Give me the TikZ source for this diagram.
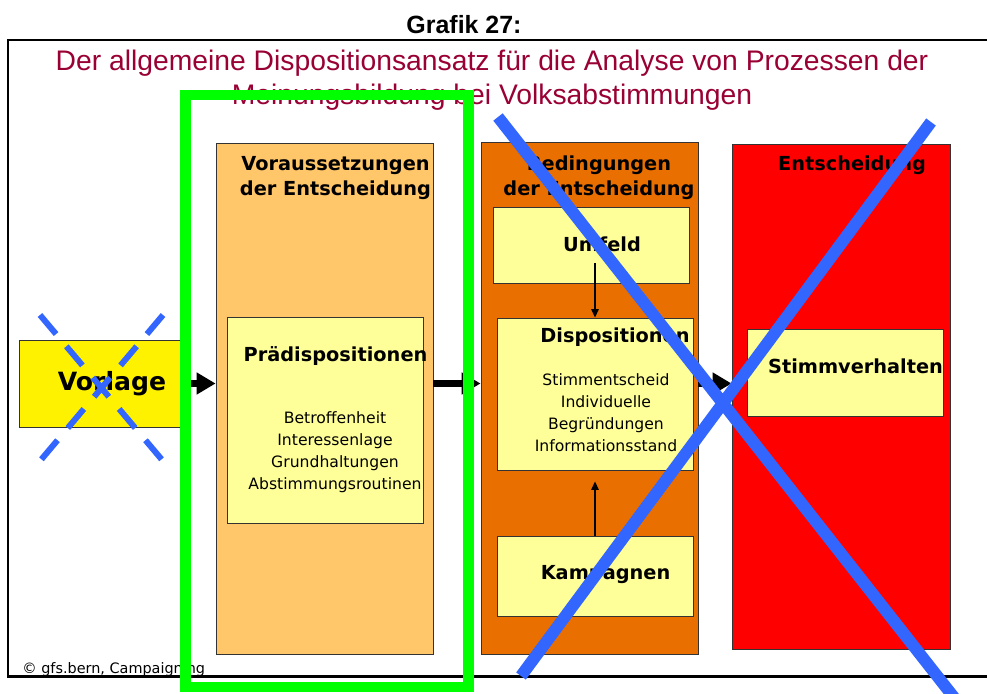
\documentclass[tikz,border=0pt]{standalone}
\usepackage{fontspec}
\setmainfont{DejaVu Sans}
\newfontfamily\titlefont{Liberation Sans}
\usetikzlibrary{arrows.meta,shadows,calc}
\definecolor{titlered}{RGB}{153,0,51}
\definecolor{paleorange}{RGB}{255,198,106}
\definecolor{darkorange}{RGB}{233,111,0}
\definecolor{paleyellow}{RGB}{255,255,153}
\definecolor{markblue}{RGB}{51,102,255}
\definecolor{markgreen}{RGB}{0,255,0}
\begin{document}
\begin{tikzpicture}[x=0.02cm, y=-0.02cm,
    box/.style={draw=black!80, line width=0.5pt, rectangle, inner sep=0pt, drop shadow={shadow xshift=0.03cm, shadow yshift=-0.03cm, fill=black!50, opacity=1}},
    head/.style={font=\fontsize{11}{14.2}\selectfont\bfseries, align=center, inner sep=0pt},
    items/.style={font=\fontsize{8.9}{12.5}\selectfont, align=center, inner sep=0pt},
    bigarrow/.style={-{Triangle[length=0.38cm, width=0.42cm]}, line width=4pt},
    smallarrow/.style={-{Triangle[length=0.17cm, width=0.15cm]}, line width=0.7pt},
    cross/.style={markblue, line width=6.8pt}]
  \useasboundingbox (0,0) rectangle (987,693);
  \node[anchor=base, inner sep=0pt, font=\titlefont\fontsize{14.2}{14.2}\selectfont\bfseries] (grafik) at (464,33) {Grafik 27:};
  \draw[line width=1.7pt] (987,40) -- (8,40) -- (8,676) -- (987,676);
  \node[anchor=base, inner sep=0pt, align=center, text=titlered, font=\titlefont\fontsize{16.1}{19.3}\selectfont] (title) at (492,104) {Der allgemeine Dispositionsansatz für die Analyse von Prozessen der\\Meinungsbildung bei Volksabstimmungen};

  \node[box, fill=yellow, minimum width=3.34cm, minimum height=1.74cm] (vorlage) at (102.5,383.5) {};
  \node[box, fill=paleorange, minimum width=4.34cm, minimum height=10.22cm] (vor) at (324.5,398.5) {};
  \node[box, fill=paleyellow, minimum width=3.92cm, minimum height=4.12cm] (praed) at (325,420) {};
  \node[box, fill=darkorange, minimum width=4.34cm, minimum height=10.24cm] (bed) at (589.5,398) {};
  \node[box, fill=paleyellow, minimum width=3.92cm, minimum height=1.52cm] (umfeld) at (591,245) {};
  \node[box, fill=paleyellow, minimum width=3.92cm, minimum height=3.04cm] (disp) at (595,394) {};
  \node[box, fill=paleyellow, minimum width=3.92cm, minimum height=1.6cm] (kamp) at (595,576) {};
  \node[box, fill=red, minimum width=4.36cm, minimum height=10.1cm] (ent) at (841,396.5) {};
  \node[box, fill=paleyellow, minimum width=3.92cm, minimum height=1.74cm] (stimm) at (845,372.5) {};

  \node[anchor=base, inner sep=0pt, font=\fontsize{14.3}{14.3}\selectfont\bfseries] (vorlage-t) at (112,390) {Vorlage};
  \node[head, anchor=base] (vor-t) at (335.5,195) {Voraussetzungen\\der Entscheidung};
  \node[head, anchor=base] (praed-t) at (335.5,361) {Prädispositionen};
  \node[items, anchor=base] (praed-l) at (335,489) {Betroffenheit\\Interessenlage\\Grundhaltungen\\Abstimmungsroutinen};
  \node[head, anchor=base] (bed-t) at (599,195) {Bedingungen\\der Entscheidung};
  \node[head, anchor=base] (umfeld-t) at (602,251) {Umfeld};
  \node[head, anchor=base west] (disp-t) at (540,342) {Dispositionen};
  \node[items, anchor=base] (disp-l) at (606,451) {Stimmentscheid\\Individuelle\\Begründungen\\Informationsstand};
  \node[head, anchor=base] (kamp-t) at (605.5,579) {Kampagnen};
  \node[head, anchor=base] (ent-t) at (852,170) {Entscheidung};
  \node[head, anchor=base] (stimm-t) at (855.5,373) {Stimmverhalten};
  \node[anchor=base west, inner sep=0pt, font=\fontsize{8.2}{10}\selectfont] (copy) at (22,673) {© gfs.bern, Campaigning};

  \draw[bigarrow] (vorlage.east) -- (vor.west |- vorlage.east);
  \draw[bigarrow] (vor.east |- vorlage.east) -- (bed.west |- vorlage.east);
  \draw[bigarrow] (bed.east |- vorlage.east) -- (ent.west |- vorlage.east);
  \draw[smallarrow] ($(umfeld.south -| disp.north)+(0,-20)$) -- (disp.north);
  \draw[smallarrow] (kamp.north) -- ($(disp.south)+(0,11)$);

  \draw[markgreen, line width=6.2pt] (185.5,95) rectangle (468.5,687);
  \draw[cross, line width=3.4pt, dash pattern=on 14.2pt off 9.1pt] (40,315) -- (163,461) (163,315) -- (40,461);
  \draw[cross] (498,117) -- (956,700) (931,122) -- (521,676);
\end{tikzpicture}
\end{document}
